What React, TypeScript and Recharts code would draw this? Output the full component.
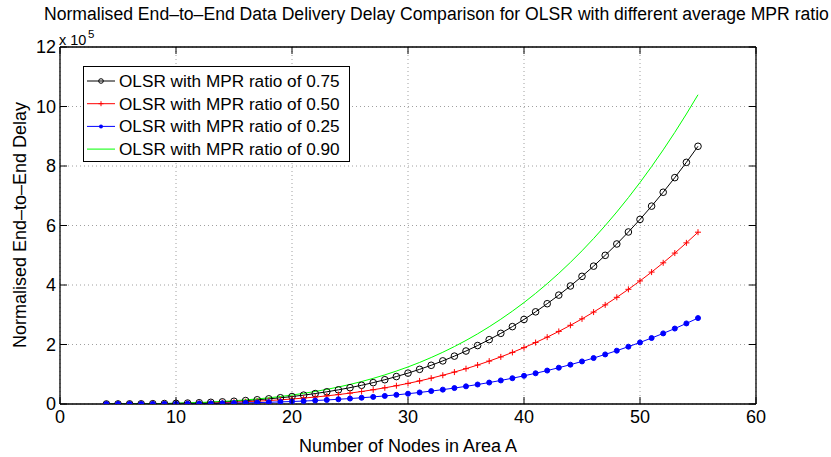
import { LineChart, Line, XAxis, YAxis, CartesianGrid } from 'recharts';

// x values: number of nodes in area A
const nodes = [4, 5, 6, 7, 8, 9, 10, 11, 12, 13, 14, 15, 16, 17, 18, 19, 20, 21, 22, 23, 24, 25, 26, 27, 28, 29,
  30, 31, 32, 33, 34, 35, 36, 37, 38, 39, 40, 41, 42, 43, 44, 45, 46, 47, 48, 49, 50, 51, 52, 53, 54, 55];

// delay values in units of 1e5
const mpr075 = [0.001, 0.002, 0.004, 0.006, 0.010, 0.015, 0.022, 0.031, 0.042, 0.056, 0.072, 0.092, 0.115, 0.142,
  0.174, 0.210, 0.251, 0.298, 0.351, 0.410, 0.476, 0.549, 0.629, 0.718, 0.816, 0.922, 1.038, 1.165, 1.301, 1.449,
  1.609, 1.781, 1.965, 2.163, 2.375, 2.601, 2.842, 3.098, 3.371, 3.660, 3.967, 4.291, 4.634, 4.997, 5.379, 5.782,
  6.205, 6.651, 7.118, 7.609, 8.123, 8.663];
const mpr050 = [0.001, 0.001, 0.003, 0.004, 0.007, 0.010, 0.015, 0.021, 0.028, 0.037, 0.048, 0.061, 0.077, 0.095,
  0.116, 0.140, 0.168, 0.199, 0.234, 0.273, 0.317, 0.366, 0.420, 0.479, 0.544, 0.615, 0.692, 0.776, 0.868, 0.966,
  1.073, 1.187, 1.310, 1.442, 1.583, 1.734, 1.895, 2.066, 2.247, 2.440, 2.645, 2.861, 3.090, 3.331, 3.586, 3.855,
  4.137, 4.434, 4.746, 5.073, 5.416, 5.775];
const mpr025 = [0.000, 0.001, 0.001, 0.002, 0.003, 0.005, 0.007, 0.010, 0.014, 0.019, 0.024, 0.031, 0.038, 0.047,
  0.058, 0.070, 0.084, 0.099, 0.117, 0.137, 0.159, 0.183, 0.210, 0.239, 0.272, 0.307, 0.346, 0.388, 0.434, 0.483,
  0.536, 0.594, 0.655, 0.721, 0.792, 0.867, 0.947, 1.033, 1.124, 1.220, 1.322, 1.431, 1.545, 1.666, 1.793, 1.927,
  2.069, 2.217, 2.373, 2.536, 2.708, 2.888];
const mpr090 = [0.001, 0.002, 0.005, 0.008, 0.012, 0.019, 0.027, 0.037, 0.050, 0.067, 0.087, 0.110, 0.138, 0.171,
  0.208, 0.252, 0.301, 0.358, 0.421, 0.492, 0.571, 0.658, 0.755, 0.862, 0.979, 1.107, 1.246, 1.397, 1.562, 1.739,
  1.931, 2.137, 2.358, 2.596, 2.850, 3.121, 3.410, 3.718, 4.045, 4.392, 4.760, 5.150, 5.561, 5.996, 6.455, 6.938,
  7.446, 7.981, 8.542, 9.131, 9.748, 10.395];

const xTicks = [0, 10, 20, 30, 40, 50, 60];
const yTicks = [0, 2, 4, 6, 8, 10, 12];

const legendItems = [
  { label: 'OLSR with MPR ratio of 0.75', color: '#000000', mark: 'circle' },
  { label: 'OLSR with MPR ratio of 0.50', color: '#ff0000', mark: 'plus' },
  { label: 'OLSR with MPR ratio of 0.25', color: '#0000ff', mark: 'dot' },
  { label: 'OLSR with MPR ratio of 0.90', color: '#00ff00', mark: 'none' },
];

const data = nodes.map((n, i) => ({
  n, a: mpr075[i], b: mpr050[i], c: mpr025[i], d: mpr090[i],
}));

const FONT = '"Liberation Sans", Arial, Helvetica, sans-serif';
const TL = 7; // tick length, drawn inward
const AXIS = { stroke: '#000', strokeWidth: 1.3 };

const BottomTick = ({ x, y, payload }: any) => (
  <g>
    <line x1={x} y1={y} x2={x} y2={y - TL} stroke="#000" />
    <text x={x} y={y + 19} textAnchor="middle" fontSize={18} fontFamily={FONT} fill="#000">{payload.value}</text>
  </g>
);
const TopTick = ({ x, y }: any) => <line x1={x} y1={y} x2={x} y2={y + TL} stroke="#000" />;
const LeftTick = ({ x, y, payload }: any) => (
  <g>
    <line x1={x} y1={y} x2={x + TL} y2={y} stroke="#000" />
    <text x={x - 4} y={y + 6} textAnchor="end" fontSize={18} fontFamily={FONT} fill="#000">{payload.value}</text>
  </g>
);
const RightTick = ({ x, y }: any) => <line x1={x} y1={y} x2={x - TL} y2={y} stroke="#000" />;

const PlusDot = ({ cx, cy, index }: any) => (
  <g key={index}>
    <line x1={cx - 3} y1={cy} x2={cx + 3} y2={cy} stroke="#ff0000" strokeWidth={1} />
    <line x1={cx} y1={cy - 3} x2={cx} y2={cy + 3} stroke="#ff0000" strokeWidth={1} />
  </g>
);

function Mark({ type, color, x, y }: { type: string; color: string; x: number; y: number }) {
  if (type === 'circle') return <circle cx={x} cy={y} r={2.3} fill="none" stroke={color} />;
  if (type === 'plus') return (
    <g>
      <line x1={x - 2.5} y1={y} x2={x + 2.5} y2={y} stroke={color} />
      <line x1={x} y1={y - 2.5} x2={x} y2={y + 2.5} stroke={color} />
    </g>
  );
  if (type === 'dot') return <circle cx={x} cy={y} r={2} fill={color} />;
  return null;
}

export default function App() {
  return (
    <div style={{ position: 'absolute', left: 0, top: 0, width: 831, height: 457, background: '#fff', fontFamily: FONT }}>
      <LineChart width={831} height={457} data={data} margin={{ top: 46, right: 74, bottom: 52, left: 0 }}>
        <CartesianGrid stroke="#a0a0a0" strokeDasharray="1 3" />
        <XAxis dataKey="n" type="number" domain={[0, 60]} ticks={xTicks} height={1} interval={0}
          axisLine={AXIS} tickLine={false} tickSize={0} tickMargin={0} tick={BottomTick} />
        <XAxis xAxisId="top" orientation="top" dataKey="n" type="number" domain={[0, 60]} ticks={xTicks} height={1} interval={0}
          axisLine={AXIS} tickLine={false} tickSize={0} tickMargin={0} tick={TopTick} />
        <YAxis type="number" domain={[0, 12]} ticks={yTicks} width={60} allowDataOverflow interval={0}
          axisLine={AXIS} tickLine={false} tickSize={0} tickMargin={0} tick={LeftTick} />
        <YAxis yAxisId="right" orientation="right" type="number" domain={[0, 12]} ticks={yTicks} width={1} allowDataOverflow interval={0}
          axisLine={AXIS} tickLine={false} tickSize={0} tickMargin={0} tick={RightTick} />
        <Line dataKey="a" stroke="#000000" strokeWidth={1} isAnimationActive={false}
          dot={{ r: 3.3, stroke: '#000000', fill: 'none', strokeWidth: 1 }} />
        <Line dataKey="b" stroke="#ff0000" strokeWidth={1} isAnimationActive={false} dot={PlusDot} />
        <Line dataKey="c" stroke="#0000ff" strokeWidth={1} isAnimationActive={false}
          dot={{ r: 2.5, stroke: '#0000ff', fill: '#0000ff', strokeWidth: 1 }} />
        <Line dataKey="d" stroke="#00ff00" strokeWidth={1} isAnimationActive={false} dot={false} />
      </LineChart>

      {/* titles, axis labels and legend */}
      <svg width={831} height={457} style={{ position: 'absolute', left: 0, top: 0, pointerEvents: 'none' }}>
        <text x={44} y={20} fontSize={17.6} fontFamily={FONT} fill="#000">
          Normalised End–to–End Data Delivery Delay Comparison for OLSR with different average MPR ratio
        </text>
        <text x={59} y={45} fontSize={14.5} fontFamily={FONT} fill="#000">x 10</text>
        <text x={88} y={38} fontSize={11.5} fontFamily={FONT} fill="#000">5</text>
        <text x={408} y={452} textAnchor="middle" fontSize={18} fontFamily={FONT} fill="#000">Number of Nodes in Area A</text>
        <text transform="translate(26,225) rotate(-90)" textAnchor="middle" fontSize={18} fontFamily={FONT} fill="#000">
          Normalised End–to–End Delay
        </text>

        <rect x={83.5} y={66.5} width={266} height={95} fill="#fff" stroke="#000" />
        {legendItems.map((it, i) => {
          const cy = 81 + i * 22.7;
          return (
            <g key={it.label}>
              <line x1={87} y1={cy} x2={115} y2={cy} stroke={it.color} />
              <Mark type={it.mark} color={it.color} x={101} y={cy} />
              <text x={119} y={cy + 6} fontSize={17.2} fontFamily={FONT} fill="#000">{it.label}</text>
            </g>
          );
        })}
      </svg>
    </div>
  );
}
